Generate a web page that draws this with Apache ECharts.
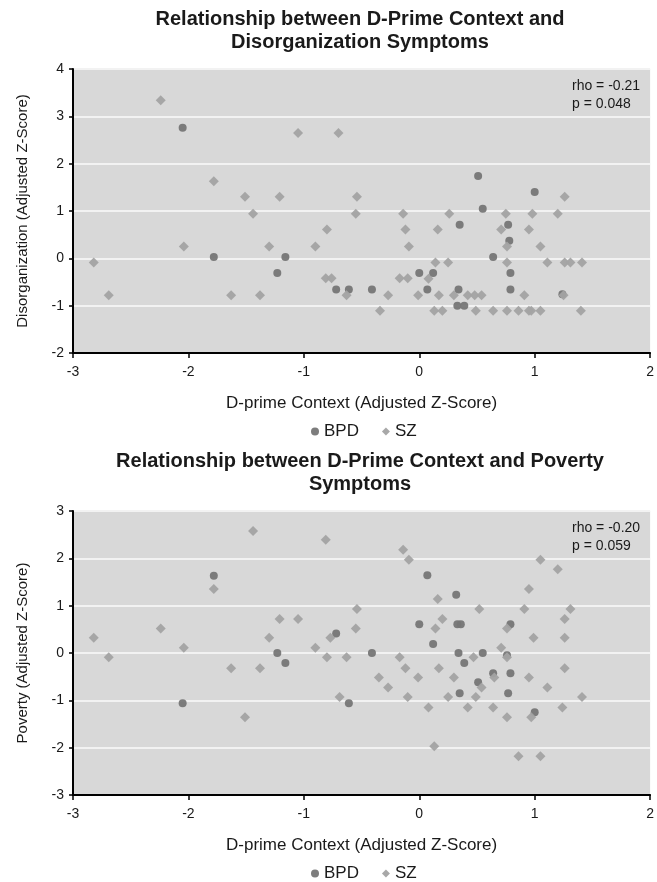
<!DOCTYPE html>
<html>
<head>
<meta charset="utf-8">
<script src="https://cdn.jsdelivr.net/npm/echarts@6/dist/echarts.min.js"></script>
<style>
html,body{margin:0;padding:0;background:#fff;}
#c{width:657px;height:882px;}
</style>
</head>
<body>
<div id="c"></div>
<script>
// ---- data ----
const titles = ['Relationship between D-Prime Context and\nDisorganization Symptoms',
                'Relationship between D-Prime Context and Poverty\nSymptoms'];
const yNames = ['Disorganization (Adjusted Z-Score)', 'Poverty (Adjusted Z-Score)'];
const xName = 'D-prime Context (Adjusted Z-Score)';
const statText = ['rho = -0.21\np = 0.048', 'rho = -0.20\np = 0.059'];
const seriesNames = ['BPD', 'SZ'];
const xTicks = [-3, -2, -1, 0, 1, 2];
const yTicksTop = [-2, -1, 0, 1, 2, 3, 4];
const yTicksBottom = [-3, -2, -1, 0, 1, 2, 3];

const bpdTop = [
  [-2.05,2.76],[0.51,1.74],[1.00,1.40],[0.55,1.05],[0.35,0.71],[0.77,0.71],[0.78,0.37],
  [0.64,0.03],[-1.78,0.03],[-1.16,0.03],[-1.23,-0.31],[0.00,-0.31],[0.12,-0.31],[0.79,-0.31],
  [-0.72,-0.66],[-0.61,-0.66],[-0.41,-0.66],[0.07,-0.66],[0.34,-0.66],[0.79,-0.66],
  [1.24,-0.76],[0.33,-1.00],[0.39,-1.00]
];
const szTop = [
  [-2.24,3.34],[-1.05,2.65],[-0.70,2.65],[-1.78,1.63],[-1.51,1.30],[-1.21,1.30],[-0.54,1.30],
  [1.26,1.30],[-1.44,0.94],[-0.55,0.94],[-0.14,0.94],[0.26,0.94],[0.75,0.94],[0.98,0.94],
  [1.20,0.94],[-0.80,0.61],[-0.12,0.61],[0.16,0.61],[0.71,0.61],[0.95,0.61],[-2.04,0.25],
  [-1.30,0.25],[-0.90,0.25],[-0.09,0.25],[0.76,0.25],[1.05,0.25],[-2.82,-0.09],[0.14,-0.09],
  [0.25,-0.09],[0.76,-0.09],[1.11,-0.09],[1.26,-0.09],[1.31,-0.09],[1.41,-0.09],[-0.81,-0.42],
  [-0.76,-0.42],[-0.17,-0.42],[-0.10,-0.42],[0.08,-0.43],[-2.69,-0.78],[-1.63,-0.78],
  [-1.38,-0.78],[-0.63,-0.78],[-0.27,-0.78],[-0.01,-0.78],[0.17,-0.78],[0.30,-0.78],
  [0.42,-0.78],[0.48,-0.78],[0.54,-0.78],[0.91,-0.78],[1.25,-0.78],[-0.34,-1.11],[0.13,-1.11],
  [0.20,-1.11],[0.49,-1.11],[0.64,-1.11],[0.76,-1.11],[0.86,-1.11],[0.95,-1.11],[0.97,-1.11],
  [1.05,-1.11],[1.40,-1.11]
];
const bpdBottom = [
  [-1.78,1.63],[0.07,1.64],[0.32,1.23],[-0.72,0.41],[0.00,0.61],[0.33,0.61],[0.36,0.61],
  [0.79,0.61],[0.12,0.19],[-1.23,0.00],[-0.41,0.00],[0.34,0.00],[0.55,0.00],[0.76,-0.05],
  [-1.16,-0.21],[0.39,-0.21],[0.64,-0.43],[0.79,-0.43],[0.51,-0.62],[0.35,-0.85],[0.77,-0.85],
  [-2.05,-1.06],[-0.61,-1.06],[1.00,-1.25]
];
const szBottom = [
  [-1.44,2.58],[-0.81,2.39],[-0.14,2.18],[-0.09,1.97],[1.05,1.97],[1.20,1.77],[-1.78,1.35],
  [0.95,1.35],[0.16,1.14],[-0.54,0.93],[0.52,0.93],[0.91,0.93],[1.31,0.93],[-1.21,0.72],
  [-1.05,0.72],[0.20,0.72],[1.26,0.72],[-2.24,0.52],[-0.55,0.52],[0.14,0.52],[0.76,0.52],
  [-2.82,0.32],[-1.30,0.32],[-0.77,0.32],[0.99,0.32],[1.26,0.32],[-2.04,0.11],[-0.90,0.11],
  [0.71,0.11],[-2.69,-0.09],[-0.80,-0.09],[-0.63,-0.09],[-0.17,-0.09],[0.47,-0.09],[0.76,-0.09],
  [-1.63,-0.32],[-1.38,-0.32],[-0.12,-0.32],[0.17,-0.32],[1.26,-0.32],[-0.35,-0.52],[-0.01,-0.52],
  [0.30,-0.52],[0.65,-0.52],[0.95,-0.52],[-0.27,-0.73],[0.54,-0.73],[1.11,-0.73],[-0.69,-0.93],
  [-0.10,-0.93],[0.25,-0.93],[0.49,-0.93],[1.41,-0.93],[0.08,-1.15],[0.42,-1.15],[0.64,-1.15],
  [1.24,-1.15],[-1.51,-1.36],[0.76,-1.36],[0.97,-1.36],[0.13,-1.97],[0.86,-2.18],[1.05,-2.18]
];

// ---- layout / style ----
const FONT = '"Liberation Sans", Arial, Helvetica, sans-serif';
const TXT = '#1a1a1a';
const BPD_COLOR = '#767676';
const SZ_COLOR = '#a3a3a3';
const gridTops = [69, 511];
const gridH = 284;
const offsets = [0, 442];

const chart = echarts.init(document.getElementById('c'), null, {renderer: 'canvas'});

function xAxis(i) {
  return {
    gridIndex: i, type: 'value', min: xTicks[0], max: xTicks[xTicks.length - 1], interval: 1,
    name: xName, nameLocation: 'middle', nameGap: 42,
    nameTextStyle: {fontFamily: FONT, fontSize: 17, color: TXT},
    axisLine: {show: true, onZero: false, lineStyle: {color: '#000', width: 2}},
    axisTick: {show: true, length: 5, lineStyle: {color: '#000', width: 1.5}},
    axisLabel: {fontFamily: FONT, fontSize: 14, color: TXT, margin: 12},
    splitLine: {show: false}
  };
}
function yAxis(i, ticks) {
  return {
    gridIndex: i, type: 'value', min: ticks[0], max: ticks[ticks.length - 1], interval: 1,
    name: yNames[i], nameLocation: 'middle', nameGap: 43,
    nameTextStyle: {fontFamily: FONT, fontSize: 15, color: TXT},
    axisLine: {show: true, onZero: false, lineStyle: {color: '#000', width: 2}},
    axisTick: {show: true, length: 4, lineStyle: {color: '#000', width: 1.5}},
    axisLabel: {fontFamily: FONT, fontSize: 14, color: TXT, margin: 9},
    splitLine: {show: true, lineStyle: {color: '#f2f2f2', width: 2}}
  };
}
function scatter(name, data, i, color, symbol, size) {
  return {
    name: name, type: 'scatter', xAxisIndex: i, yAxisIndex: i, data: data,
    symbol: symbol, symbolSize: size, animation: false,
    itemStyle: {color: color, opacity: 0.95}
  };
}
function legend(i) {
  return {
    top: 418 + offsets[i], left: 306, itemWidth: 8, itemHeight: 8, itemGap: 23,
    textStyle: {fontFamily: FONT, fontSize: 17, color: TXT},
    data: [{name: 'BPD', icon: 'circle'}, {name: 'SZ', icon: 'diamond'}],
    selectedMode: false
  };
}
function texts(i) {
  return [
    {type: 'text', x: 360, y: 8 + offsets[i], z: 10,
     style: {text: titles[i], fill: TXT, font: 'bold 20px ' + FONT, textAlign: 'center',
             textVerticalAlign: 'top', lineHeight: 23}},
    {type: 'text', x: 572, y: 77 + offsets[i], z: 10,
     style: {text: statText[i], fill: TXT, font: '14px ' + FONT, textAlign: 'left',
             textVerticalAlign: 'top', lineHeight: 18}}
  ];
}

const option = {
  backgroundColor: '#ffffff',
  animation: false,
  grid: gridTops.map(t => ({left: 73, right: 6, top: t, height: gridH, show: true,
                            backgroundColor: '#d8d8d8', borderWidth: 0, containLabel: false})),
  xAxis: [xAxis(0), xAxis(1)],
  yAxis: [yAxis(0, yTicksTop), yAxis(1, yTicksBottom)],
  legend: [legend(0), legend(1)],
  series: [
    scatter(seriesNames[0], bpdTop, 0, BPD_COLOR, 'circle', 8),
    scatter(seriesNames[1], szTop, 0, SZ_COLOR, 'diamond', 10),
    scatter(seriesNames[0], bpdBottom, 1, BPD_COLOR, 'circle', 8),
    scatter(seriesNames[1], szBottom, 1, SZ_COLOR, 'diamond', 10)
  ],
  graphic: [].concat(texts(0), texts(1))
};
chart.setOption(option);
</script>
</body>
</html>
